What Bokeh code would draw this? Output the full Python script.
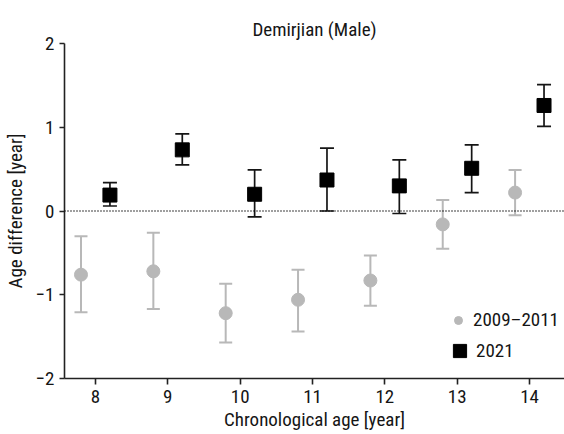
from bokeh.plotting import figure
from bokeh.models import Range1d, Span, Legend, LegendItem, FixedTicker, ColumnDataSource
from bokeh.embed import file_html
from bokeh.resources import INLINE

FONT = "Liberation Sans Narrow, Roboto Condensed, Liberation Sans, sans-serif"

ages = [8, 9, 10, 11, 12, 13, 14]
y_ticks = [-2, -1, 0, 1, 2]

# 2009–2011 (gray circles)
old_mean = [-0.76, -0.72, -1.22, -1.06, -0.83, -0.16, 0.22]
old_upper = [-0.30, -0.26, -0.87, -0.70, -0.53, 0.13, 0.49]
old_lower = [-1.21, -1.17, -1.57, -1.44, -1.13, -0.45, -0.05]

# 2021 (black squares)
new_mean = [0.19, 0.73, 0.20, 0.37, 0.30, 0.51, 1.26]
new_upper = [0.34, 0.92, 0.49, 0.75, 0.61, 0.79, 1.51]
new_lower = [0.06, 0.55, -0.07, 0.00, -0.03, 0.22, 1.01]

offset = 0.2
GRAY = "#b8b8b8"
INK = "#151515"

p = figure(width=564, height=434, output_backend="svg", toolbar_location=None,
           x_range=Range1d(7.572, 14.483), y_range=Range1d(-2, 2),
           min_border_left=63, min_border_right=0, min_border_top=43, min_border_bottom=56,
           title="Demirjian (Male)")

p.title.align = "center"
p.title.text_font = FONT
p.title.text_font_size = "19px"
p.title.text_font_style = "normal"
p.title.text_color = INK
p.title.standoff = 6

p.outline_line_color = None
p.grid.visible = False
p.background_fill_color = "white"
p.border_fill_color = "white"

old_x = [a - offset for a in ages]
new_x = [a + offset for a in ages]
src_old = ColumnDataSource(dict(x=old_x, m=old_mean, u=old_upper, l=old_lower))
src_new = ColumnDataSource(dict(x=new_x, m=new_mean, u=new_upper, l=new_lower))

p.add_layout(Span(location=0, dimension="width", line_color="black",
                  line_dash="1 2", line_width=1.5))

# gray error bars
p.segment(x0="x", y0="l", x1="x", y1="u", source=src_old, line_color=GRAY, line_width=2)
p.scatter(x="x", y="u", source=src_old, marker="dash", size=13, line_color=GRAY, line_width=2)
p.scatter(x="x", y="l", source=src_old, marker="dash", size=13, line_color=GRAY, line_width=2)
r_old = p.scatter(x="x", y="m", source=src_old, marker="circle", size=13,
                  fill_color=GRAY, line_color=GRAY)

# black error bars
p.segment(x0="x", y0="l", x1="x", y1="u", source=src_new, line_color=INK, line_width=1.7)
p.scatter(x="x", y="u", source=src_new, marker="dash", size=14, line_color=INK, line_width=1.7)
p.scatter(x="x", y="l", source=src_new, marker="dash", size=14, line_color=INK, line_width=1.7)
r_new = p.scatter(x="x", y="m", source=src_new, marker="square", size=14,
                  fill_color="black", line_color="black")


def make_legend(label, renderer, loc, glyph, standoff):
    lg = Legend(items=[LegendItem(label=label, renderers=[renderer])],
                location=loc, orientation="vertical")
    lg.border_line_color = None
    lg.background_fill_alpha = 0
    lg.padding = 0
    lg.margin = 0
    lg.spacing = 0
    lg.glyph_width = glyph
    lg.glyph_height = glyph
    lg.label_height = glyph
    lg.label_standoff = standoff
    lg.label_text_font = FONT
    lg.label_text_font_size = "19px"
    lg.label_text_color = INK
    return lg


p.add_layout(make_legend("2009–2011", r_old, (384, 47), 20, 5), "center")
p.add_layout(make_legend("2021", r_new, (379, 11), 33, -3), "center")

for ax in (p.xaxis[0], p.yaxis[0]):
    ax.axis_line_color = "#222222"
    ax.axis_line_width = 1.6
    ax.major_tick_line_color = "#222222"
    ax.major_tick_line_width = 1.6
    ax.major_tick_in = 0
    ax.minor_tick_line_color = None
    ax.major_label_text_font = FONT
    ax.major_label_text_font_size = "19px"
    ax.major_label_text_color = INK
    ax.axis_label_text_font = FONT
    ax.axis_label_text_font_size = "19px"
    ax.axis_label_text_font_style = "normal"
    ax.axis_label_text_color = INK

p.xaxis.major_tick_out = 6
p.yaxis.major_tick_out = 5
p.xaxis.ticker = FixedTicker(ticks=ages)
p.yaxis.ticker = FixedTicker(ticks=y_ticks)
p.yaxis.major_label_overrides = {-2: "−2", -1: "−1", 0: "0", 1: "1", 2: "2"}
p.xaxis.axis_label = "Chronological age [year]"
p.yaxis.axis_label = "Age difference [year]"
p.xaxis.major_label_standoff = 5
p.yaxis.major_label_standoff = 5
p.xaxis.axis_label_standoff = 2
p.yaxis.axis_label_standoff = 6

open("out.html", "w").write(file_html(p, INLINE))
